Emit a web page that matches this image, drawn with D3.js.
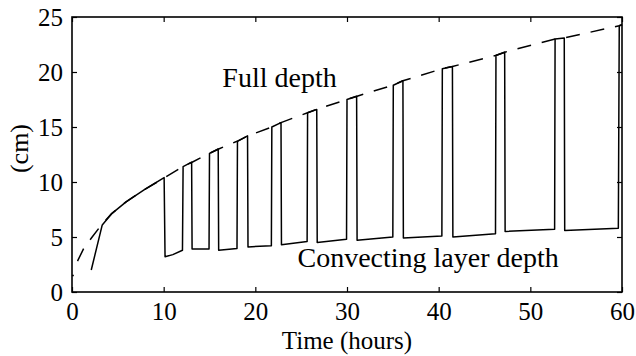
<!DOCTYPE html>
<html>
<head>
<meta charset="utf-8">
<script src="https://cdn.jsdelivr.net/npm/d3@7/dist/d3.min.js"></script>
<style>
  html, body { margin: 0; padding: 0; background: #fff; }
  svg { display: block; }
  text { font-family: "Liberation Serif", "Times New Roman", serif; fill: #000; }
</style>
</head>
<body>
<svg id="chart" width="636" height="356"></svg>
<script>
// ---- data ----
const xTicks = [0, 10, 20, 30, 40, 50, 60];
const yTicks = [0, 5, 10, 15, 20, 25];

// Full depth (dashed)
const fullTime  = [0.6, 1.3, 2.2, 3.3, 4.3, 5.9, 7.9, 10.1, 12.1, 13.1, 15.0, 16.0, 18.0, 19.2, 21.8, 22.8, 25.7, 26.7, 30.0, 31.1, 35.0, 36.1, 40.4, 41.5, 46.2, 47.2, 52.7, 53.7, 59.7, 60.0];
const fullDepth = [2.8, 4.0, 5.0, 6.2, 7.1, 8.2, 9.3, 10.4, 11.4, 11.8, 12.6, 13.0, 13.7, 14.2, 15.0, 15.4, 16.3, 16.6, 17.5, 17.8, 18.8, 19.2, 20.3, 20.5, 21.5, 21.8, 23.0, 23.1, 24.2, 24.3];

// Convecting layer depth (solid)
const convTime  = [0.0, 0.2, null, 2.1, 3.3, 4.3, 5.9, 7.9, 10.05, 10.15, 11.0, 12.05, 12.12, 13.05, 13.1, 14.95, 15.0, 15.95, 16.0, 18.0, 18.05, 19.15, 19.2, 21.75, 21.8, 22.8, 22.85, 25.65, 25.7, 26.7, 26.75, 29.95, 30.0, 31.05, 31.1, 35.0, 35.05, 36.1, 36.15, 40.35, 40.4, 41.5, 41.55, 46.2, 46.25, 47.2, 47.25, 52.65, 52.7, 53.7, 53.75, 59.6, 59.7, 60.0];
const convDepth = [1.5, 1.5, null, 2.0, 6.1, 7.1, 8.2, 9.3, 10.4, 3.2, 3.4, 3.8, 11.4, 11.8, 3.9, 3.9, 12.6, 13.0, 3.8, 3.95, 13.7, 14.2, 4.1, 4.2, 15.0, 15.4, 4.3, 4.6, 16.3, 16.6, 4.5, 4.8, 17.5, 17.8, 4.7, 5.0, 18.8, 19.2, 4.9, 5.1, 20.3, 20.5, 5.0, 5.3, 21.5, 21.8, 5.5, 5.7, 23.0, 23.1, 5.6, 5.8, 24.2, 24.3];

const labelFull = { text: "Full depth", t: 16.4, d: 18.6 };
const labelConv = { text: "Convecting layer depth", t: 24.6, d: 2.27 };

// ---- layout ----
const W = 636, H = 356;
const margin = { left: 72, right: 14, top: 17, bottom: 64 };
const iw = W - margin.left - margin.right;
const ih = H - margin.top - margin.bottom;

const svg = d3.select("#chart");
const g = svg.append("g").attr("transform", `translate(${margin.left},${margin.top})`);

const x = d3.scaleLinear().domain([0, 60]).range([0, iw]);
const y = d3.scaleLinear().domain([0, 25]).range([ih, 0]);

// axes with inward ticks
const tickLen = 5;
const ax = [
  { gen: d3.axisBottom(x).tickValues(xTicks).tickSize(-tickLen).tickPadding(10), tr: `translate(0,${ih})`, labels: true },
  { gen: d3.axisTop(x).tickValues(xTicks).tickSize(-tickLen), tr: `translate(0,0)`, labels: false },
  { gen: d3.axisLeft(y).tickValues(yTicks).tickSize(-tickLen).tickPadding(9), tr: `translate(0,0)`, labels: true },
  { gen: d3.axisRight(y).tickValues(yTicks).tickSize(-tickLen), tr: `translate(${iw},0)`, labels: false }
];
ax.forEach(a => {
  const s = g.append("g").attr("transform", a.tr).call(a.gen.tickFormat(d3.format("d")));
  s.select(".domain").remove();
  s.selectAll(".tick line").attr("stroke", "#000").attr("stroke-width", 1.2);
  if (!a.labels) s.selectAll(".tick text").remove();
  else s.selectAll(".tick text").attr("font-size", 25).attr("font-family", "Liberation Serif, serif").attr("fill", "#000");
});

// frame
g.append("rect").attr("x", 0).attr("y", 0).attr("width", iw).attr("height", ih)
  .attr("fill", "none").attr("stroke", "#000").attr("stroke-width", 1.6);

// lines
const fullData = fullTime.map((t, i) => [t, fullDepth[i]]);
const convData = convTime.map((t, i) => [t, convDepth[i]]);

const line = d3.line()
  .defined(d => d[0] !== null && d[1] !== null)
  .x(d => x(d[0])).y(d => y(d[1]));

g.append("path").datum(fullData).attr("d", line)
  .attr("fill", "none").attr("stroke", "#000").attr("stroke-width", 1.5)
  .attr("stroke-dasharray", "14,11");

g.append("path").datum(convData).attr("d", line)
  .attr("fill", "none").attr("stroke", "#000").attr("stroke-width", 1.5)
  .attr("stroke-linejoin", "round");

// annotations
[labelFull, labelConv].forEach(l => {
  g.append("text").attr("x", x(l.t)).attr("y", y(l.d))
    .attr("font-size", 28).text(l.text);
});

// axis titles
svg.append("text").attr("x", margin.left + iw / 2).attr("y", 349)
  .attr("text-anchor", "middle").attr("font-size", 25).text("Time (hours)");
svg.append("text").attr("transform", `translate(28,${margin.top + ih / 2 - 6}) rotate(-90)`)
  .attr("text-anchor", "middle").attr("font-size", 26).text("(cm)");
</script>
</body>
</html>
